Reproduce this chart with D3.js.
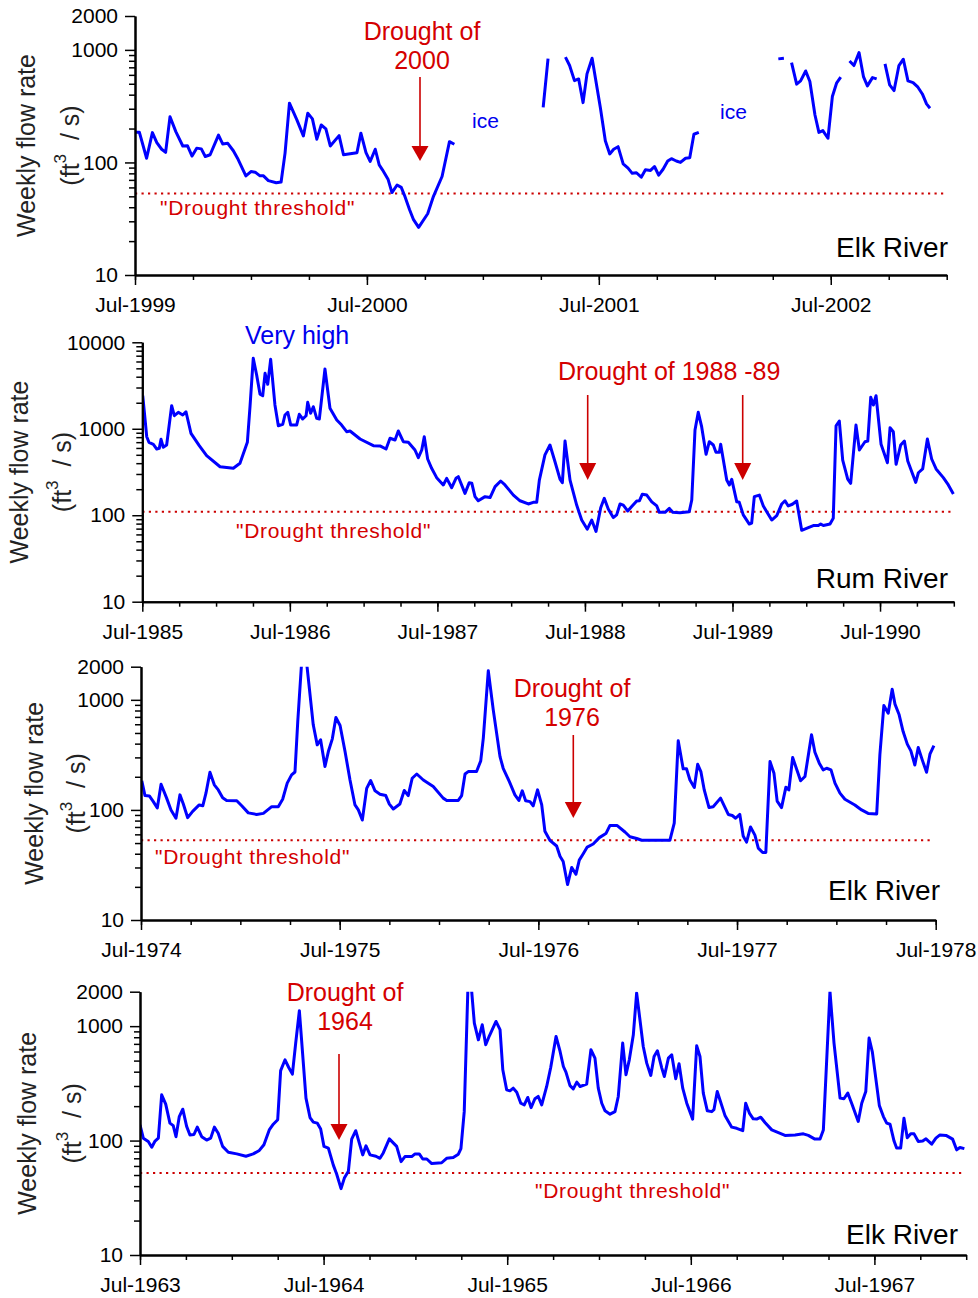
<!DOCTYPE html>
<html><head><meta charset="utf-8">
<script src="https://cdn.jsdelivr.net/npm/d3@7"></script>
<style>
body{margin:0;background:#fff;}
svg{display:block;font-family:"Liberation Sans",Arial,Helvetica,sans-serif;}
</style></head><body>
<svg id="chart" width="978" height="1298"></svg>
<script>
// ---------------- DATA ----------------
// Panel 1: Elk River, Jul-1999 .. Jan-2003 (null = ice gap)
const elk2000Years = [1999.500,1999.519,1999.550,1999.575,1999.594,1999.615,1999.632,1999.651,1999.676,1999.706,1999.726,1999.746,1999.766,1999.786,1999.803,1999.824,1999.860,1999.878,1999.900,1999.924,1999.942,1999.978,2000.000,2000.018,2000.039,2000.054,2000.075,2000.109,2000.130,2000.147,2000.166,2000.198,2000.226,2000.245,2000.265,2000.284,2000.303,2000.323,2000.342,2000.380,2000.399,2000.457,2000.474,2000.496,2000.514,2000.536,2000.553,2000.567,2000.591,2000.608,2000.630,2000.648,2000.662,2000.684,2000.701,2000.723,2000.762,2000.787,2000.824,2000.856,2000.877,
 2000.95,
 2001.260,2001.281,
 2001.32,
 2001.356,2001.374,2001.395,2001.413,2001.432,2001.449,2001.471,2001.507,2001.528,2001.547,2001.564,2001.583,2001.605,2001.626,2001.644,2001.662,2001.683,2001.701,2001.723,2001.740,2001.758,2001.777,2001.797,2001.813,2001.834,2001.852,2001.874,2001.892,2001.910,2001.931,
 2002.1,
 2002.274,2002.298,
 2002.315,
 2002.331,2002.353,2002.370,2002.392,2002.410,2002.432,2002.449,2002.466,2002.488,2002.507,2002.525,2002.543,
 2002.56,
 2002.581,2002.600,2002.622,2002.641,2002.658,2002.680,2002.698,
 2002.715,
 2002.734,2002.754,2002.773,2002.794,2002.813,2002.833,2002.855,2002.876,2002.895,2002.913,2002.928];
const elk2000Flow = [185,185,109,184,150,131,123,255,188,140,141,114,134,132,113,117,175,146,148,127,109,76,83,82,76,76,69,66,67,121,336,239,172,274,244,161,215,199,140,173,117,122,182,122,102,131,95,86,71,54,63,60,51,38,31,26.5,35,50,75,153,145,
 null,
 309,837,
 null,
 861,726,533,552,340,612,843,303,156,119,131,138,97,89,80,81,74,86,85,92,77,87,103,108,103,100,109,110,178,185,
 null,
 832,843,
 null,
 771,496,530,650,523,264,185,192,164,385,506,572,
 null,
 798,726,946,579,479,567,552,
 null,
 751,489,435,726,826,530,512,466,406,331,303];

// Panel 2: Rum River, Jul-1985 .. Jan-1991
const rumYears = [1985.503,1985.530,1985.545,1985.575,1985.598,1985.615,1985.627,1985.642,1985.665,1985.699,1985.717,1985.744,1985.774,1985.796,1985.830,1985.886,1985.936,1986.027,1986.117,1986.162,1986.212,1986.230,1986.252,1986.275,1986.298,1986.316,1986.332,1986.350,1986.370,1986.399,1986.422,1986.452,1986.467,1986.486,1986.506,1986.546,1986.564,1986.587,1986.610,1986.621,1986.641,1986.659,1986.682,1986.700,1986.738,1986.772,1986.818,1986.851,1986.885,1986.908,1986.976,1987.066,1987.111,1987.152,1987.179,1987.213,1987.235,1987.269,1987.303,1987.348,1987.371,1987.394,1987.411,1987.434,1987.461,1987.495,1987.540,1987.563,1987.597,1987.626,1987.642,1987.687,1987.716,1987.733,1987.755,1987.777,1987.823,1987.857,1987.891,1987.929,1987.958,1988.015,1988.060,1988.116,1988.150,1988.173,1988.191,1988.229,1988.263,1988.297,1988.331,1988.347,1988.365,1988.399,1988.444,1988.478,1988.516,1988.546,1988.575,1988.607,1988.631,1988.658,1988.692,1988.715,1988.738,1988.760,1988.790,1988.817,1988.851,1988.869,1988.889,1988.919,1988.953,1988.987,1989.004,1989.043,1989.072,1989.095,1989.144,1989.207,1989.224,1989.246,1989.268,1989.291,1989.321,1989.343,1989.370,1989.388,1989.411,1989.420,1989.461,1989.479,1989.495,1989.529,1989.546,1989.573,1989.614,1989.630,1989.648,1989.682,1989.709,1989.732,1989.766,1989.800,1989.834,1989.856,1989.878,1989.906,1989.935,1989.969,1990.014,1990.048,1990.082,1990.098,1990.116,1990.161,1990.183,1990.202,1990.224,1990.247,1990.281,1990.301,1990.337,1990.360,1990.398,1990.417,1990.437,1990.455,1990.473,1990.507,1990.550,1990.568,1990.590,1990.609,1990.640,1990.665,1990.688,1990.715,1990.742,1990.760,1990.789,1990.821,1990.850,1990.880,1990.929,1990.963,1990.997];
const rumFlow = [2410,809,697,661,583,593,755,611,649,1849,1416,1549,1443,1574,886,637,488,364,349,399,697,1800,6530,4190,2505,2410,4375,3266,6353,1884,1084,1127,1443,1549,1104,1104,1470,1297,1416,2023,1510,1800,1321,1300,4909,1726,1262,1104,925,942,762,637,634,583,776,741,942,708,697,568,463,568,809,447,349,272,224,267,208,267,279,179,238,235,164,147,164,160,214,249,224,171,147,135,141,141,255,498,649,416,262,238,721,255,131,88,69,88,65,122,157,118,94,101,135,131,112,126,146,147,175,171,143,128,108,108,120,108,107,110,150,968,1549,1057,507,708,649,535,535,661,255,224,260,143,141,101,79,81,164,171,128,110,88,99,135,147,128,134,146,67,72,76,76,79,76,79,92,1084,1230,435,262,234,1104,568,708,721,2312,1884,2410,661,405,1028,925,388,649,721,424,318,240,310,343,762,447,343,272,224,176];

// Panel 3: Elk River, Jul-1974 .. Jul-1978
const elk1976Years = [1974.504,1974.520,1974.542,1974.562,1974.582,1974.601,1974.629,1974.651,1974.676,1974.696,1974.713,1974.735,1974.760,1974.793,1974.811,1974.827,1974.847,1974.869,1974.889,1974.911,1974.931,1974.982,1975.007,1975.040,1975.082,1975.116,1975.158,1975.191,1975.213,1975.236,1975.258,1975.275,1975.289,1975.318,1975.367,1975.387,1975.404,1975.426,1975.443,1975.463,1975.481,1975.502,1975.527,1975.552,1975.577,1975.594,1975.614,1975.636,1975.656,1975.678,1975.703,1975.732,1975.750,1975.770,1975.803,1975.825,1975.845,1975.865,1975.888,1975.921,1975.971,1976.021,1976.039,1976.097,1976.114,1976.131,1976.147,1976.189,1976.210,1976.223,1976.248,1976.273,1976.307,1976.323,1976.354,1976.382,1976.402,1976.419,1976.436,1976.458,1976.474,1976.496,1976.517,1976.533,1976.558,1976.592,1976.609,1976.625,1976.647,1976.668,1976.689,1976.706,1976.726,1976.746,1976.776,1976.807,1976.840,1976.860,1976.897,1976.936,1976.961,1976.995,1977.020,1977.162,1977.184,1977.204,1977.229,1977.246,1977.263,1977.285,1977.302,1977.318,1977.335,1977.359,1977.380,1977.417,1977.456,1977.476,1977.493,1977.514,1977.531,1977.548,1977.568,1977.590,1977.607,1977.629,1977.645,1977.666,1977.686,1977.702,1977.724,1977.746,1977.761,1977.780,1977.820,1977.842,1977.875,1977.892,1977.914,1977.934,1977.951,1977.973,1977.993,1978.018,1978.043,1978.093,1978.127,1978.160,1978.203,1978.219,1978.239,1978.261,1978.281,1978.295,1978.316,1978.336,1978.357,1978.375,1978.395,1978.412,1978.434,1978.454,1978.471,1978.491];
const elk1976Flow = [184,135,134,119,104,171,128,100,84,137,113,85,97,111,109,142,220,169,152,129,122,121,109,94,91,93,107,107,125,175,208,221,635,4000,593,390,433,248,339,442,691,584,339,187,111,100,81,157,185,149,139,135,113,102,113,150,135,194,212,187,163,128,122,122,135,212,223,223,279,449,1836,811,305,239,181,137,122,149,121,119,109,152,111,64,53,47,38,34,21,30,26,35,40,46,49,56,61,72,72,63,57,55,53,53,76,424,236,236,187,160,260,223,152,105,107,128,91,89,84,91,58,51,70,59,45,41,41,275,215,120,105,161,152,299,184,201,481,334,266,231,239,231,175,142,125,111,100,93,92,316,888,757,1250,914,731,515,396,344,256,369,279,220,321,384];

// Panel 4: Elk River, Jul-1963 .. Jan-1968
const elk1964Years = [1963.500,1963.518,1963.545,1963.564,1963.582,1963.600,1963.618,1963.640,1963.663,1963.681,1963.696,1963.714,1963.733,1963.754,1963.772,1963.794,1963.812,1963.836,1963.863,1963.885,1963.905,1963.926,1963.950,1963.981,1964.027,1964.077,1964.117,1964.150,1964.175,1964.204,1964.226,1964.250,1964.266,1964.290,1964.310,1964.330,1964.348,1964.368,1964.404,1964.426,1964.444,1964.466,1964.484,1964.502,1964.526,1964.553,1964.571,1964.595,1964.613,1964.635,1964.653,1964.675,1964.713,1964.731,1964.753,1964.785,1964.807,1964.825,1964.858,1964.898,1964.922,1964.943,1964.980,1964.998,1965.021,1965.040,1965.062,1965.089,1965.143,1965.170,1965.206,1965.234,1965.248,1965.266,1965.291,1965.321,1965.343,1965.364,1965.383,1965.403,1965.439,1965.461,1965.476,1965.497,1965.515,1965.533,1965.552,1965.574,1965.593,1965.612,1965.630,1965.651,1965.669,1965.688,1965.715,1965.737,1965.766,1965.788,1965.806,1965.820,1965.842,1965.860,1965.879,1965.897,1965.933,1965.956,1965.978,1965.996,1966.015,1966.033,1966.060,1966.087,1966.105,1966.129,1966.147,1966.165,1966.187,1966.205,1966.241,1966.260,1966.282,1966.300,1966.318,1966.342,1966.356,1966.378,1966.396,1966.418,1966.436,1966.456,1966.478,1966.510,1966.532,1966.550,1966.568,1966.590,1966.614,1966.626,1966.644,1966.686,1966.723,1966.750,1966.783,1966.799,1966.819,1966.840,1966.859,1966.881,1966.904,1966.941,1966.977,1967.013,1967.068,1967.113,1967.140,1967.176,1967.204,1967.222,1967.258,1967.280,1967.313,1967.334,1967.355,1967.376,1967.412,1967.431,1967.453,1967.471,1967.489,1967.527,1967.549,1967.567,1967.585,1967.607,1967.621,1967.643,1967.661,1967.679,1967.698,1967.716,1967.739,1967.763,1967.781,1967.812,1967.835,1967.857,1967.890,1967.926,1967.948,1967.966,1967.990];
const elk1964Flow = [137,105,98,87.5,99,105,251,208,142,135,108,162,188,133,112,113,131,108,101,105,131,116,89,79,76.5,73,76.5,82,92,124,139,152,409,508,435,381,711,1364,235,159,145,142,126,89,86,61,51,38,47,54,103,122,75,90,75,73,70,78,103.5,89,65.5,72.5,72.5,76.5,76.5,69,69,63,64,70,71,76,85,179,4000,1064,760,1028,687,824,1099,931,416,278,272,287,265,212,205,238,194,232,243,205,297,435,813,601,444,396,302,283,324,297,311,622,526,287,212,182,170,179,243,711,376,508,841,1950,664,475,371,543,610,430,363,526,562,347,469,287,212,154,674,543,260,182,179,186,268,166,131,128,122,212,174,155,154,160,144,124,117.5,111,112,114.5,111,103,103,124,2014,711,235,232,260,212,147,212,268,787,593,202,162,142,139,99,86,86,157,106,114.5,114.5,98,99,103.5,93,105,112,111,103,83,87,85];

// Drought thresholds (ft3/s) for the four panels
const thresholds = [53, 110, 53, 52];

// Tick labels
const elkYTicks = [10, 100, 1000, 2000];
const elkYLabels = ["10", "100", "1000", "2000"];
const rumYTicks = [10, 100, 1000, 10000];
const rumYLabels = ["10", "100", "1000", "10000"];
const elk2000XLabels = ["Jul-1999", "Jul-2000", "Jul-2001", "Jul-2002"];
const rumXLabels = ["Jul-1985", "Jul-1986", "Jul-1987", "Jul-1988", "Jul-1989", "Jul-1990"];
const elk1976XLabels = ["Jul-1974", "Jul-1975", "Jul-1976", "Jul-1977", "Jul-1978"];
const elk1964XLabels = ["Jul-1963", "Jul-1964", "Jul-1965", "Jul-1966", "Jul-1967"];

// ---------------- DRAWING ----------------
const svg = d3.select("#chart");
const RED = "#d40000";
const BLUE = "#0000ff";

const panels = [
  {years: elk2000Years, flow: elk2000Flow, xDomain: [1999.5, 2003.0], left: 135, right: 946.7,
   top: 16, bottom: 275, yDomain: [10, 2000], yTicks: elkYTicks, yLabels: elkYLabels,
   xLabels: elk2000XLabels, threshold: thresholds[0], threshEnd: 946.7, t1: 35, t2: 79},
  {years: rumYears, flow: rumFlow, xDomain: [1985.5, 1991.0], left: 142.3, right: 953.8,
   top: 342.3, bottom: 601.7, yDomain: [10, 10000], yTicks: rumYTicks, yLabels: rumYLabels,
   xLabels: rumXLabels, threshold: thresholds[1], threshEnd: 953.8, t1: 28, t2: 71},
  {years: elk1976Years, flow: elk1976Flow, xDomain: [1974.5, 1978.5], left: 141, right: 935.7,
   top: 666.7, bottom: 920, yDomain: [10, 2000], yTicks: elkYTicks, yLabels: elkYLabels,
   xLabels: elk1976XLabels, threshold: thresholds[2], threshEnd: 934, t1: 43, t2: 85},
  {years: elk1964Years, flow: elk1964Flow, xDomain: [1963.5, 1968.0], left: 140, right: 966.2,
   top: 991.7, bottom: 1255, yDomain: [10, 2000], yTicks: elkYTicks, yLabels: elkYLabels,
   xLabels: elk1964XLabels, threshold: thresholds[3], threshEnd: 964, t1: 36, t2: 81}
];

function styleAxis(g, fontSize) {
  g.attr("font-family", null).attr("font-size", fontSize);
  g.select(".domain").attr("stroke", "#000").attr("stroke-width", 2);
  g.selectAll(".tick line").attr("stroke", "#000").attr("stroke-width", 1.5);
  g.selectAll(".tick text").attr("fill", "#000");
}

function drawPanel(p, idx) {
  const x = d3.scaleLinear().domain(p.xDomain).range([p.left, p.right]);
  const y = d3.scaleLog().domain(p.yDomain).range([p.bottom, p.top]);
  const g = svg.append("g");

  const clipId = "clip" + idx;
  svg.append("clipPath").attr("id", clipId).append("rect")
    .attr("x", p.left).attr("y", p.top).attr("width", p.right - p.left + 10).attr("height", p.bottom - p.top);

  // threshold line
  g.append("line")
    .attr("x1", x(p.xDomain[0])).attr("x2", p.threshEnd)
    .attr("y1", y(p.threshold)).attr("y2", y(p.threshold))
    .attr("stroke", "#cc0000").attr("stroke-width", 2).attr("stroke-dasharray", "2.2,4.3");

  // flow line
  const pts = p.years.map((t, i) => ({t: t, v: p.flow[i]}));
  const line = d3.line().defined(d => d.v != null).x(d => x(d.t)).y(d => y(d.v));
  g.append("path").datum(pts).attr("d", line)
    .attr("fill", "none").attr("stroke", BLUE).attr("stroke-width", 3)
    .attr("stroke-linejoin", "round").attr("clip-path", `url(#${clipId})`);

  // x axis: minor quarterly ticks
  const minorX = d3.range(p.xDomain[0], p.xDomain[1] + 0.001, 0.25);
  const gxm = g.append("g").attr("transform", `translate(0,${p.bottom})`)
    .call(d3.axisBottom(x).tickValues(minorX).tickSize(5).tickSizeOuter(0).tickFormat(""));
  styleAxis(gxm, 21);
  const majorX = p.xLabels.map((l, i) => p.xDomain[0] + i);
  const gx = g.append("g").attr("transform", `translate(0,${p.bottom})`)
    .call(d3.axisBottom(x).tickValues(majorX).tickSize(10).tickPadding(12).tickSizeOuter(0)
      .tickFormat((d, i) => p.xLabels[i]));
  styleAxis(gx, 21);

  // y axis
  const minorY = [];
  for (let dec = p.yDomain[0]; dec < p.yDomain[1]; dec *= 10) {
    for (let k = 2; k <= 9; k++) if (dec * k < p.yDomain[1]) minorY.push(dec * k);
  }
  const gym = g.append("g").attr("transform", `translate(${p.left},0)`)
    .call(d3.axisLeft(y).tickValues(minorY).tickSize(6).tickSizeOuter(0).tickFormat(""));
  styleAxis(gym, 21);
  const gy = g.append("g").attr("transform", `translate(${p.left},0)`)
    .call(d3.axisLeft(y).tickValues(p.yTicks).tickSize(10).tickPadding(7).tickSizeOuter(0)
      .tickFormat((d, i) => p.yLabels[i]));
  styleAxis(gy, 21);

  // y title
  const mid = (p.top + p.bottom) / 2;
  g.append("text").attr("transform", `translate(${p.t1},${mid}) rotate(-90)`)
    .attr("text-anchor", "middle").attr("font-size", 25).attr("fill", "#222")
    .text("Weekly flow rate");
  const t2 = g.append("text").attr("transform", `translate(${p.t2},${mid}) rotate(-90)`)
    .attr("text-anchor", "middle").attr("font-size", 25).attr("fill", "#222");
  t2.append("tspan").text("(ft");
  t2.append("tspan").attr("font-size", 17).attr("dy", -13).text("3");
  t2.append("tspan").attr("dy", 13).text("\u00a0 / s)");
  return {x, y, g};
}

function redText(g, str, x, y, size, anchor, spacing) {
  const t = g.append("text").attr("x", x).attr("y", y).attr("fill", RED)
    .attr("font-size", size).attr("text-anchor", anchor || "start").text(str);
  if (spacing) t.attr("letter-spacing", spacing);
  return t;
}
function arrow(g, x, y1, y2, y3) {
  g.append("line").attr("x1", x).attr("x2", x).attr("y1", y1).attr("y2", y2)
    .attr("stroke", "#cc0000").attr("stroke-width", 1.6);
  g.append("path").attr("d", `M${x - 8.5},${y2} L${x + 8.5},${y2} L${x},${y3} Z`).attr("fill", "#cc0000");
}
function blackText(g, str, x, y) {
  g.append("text").attr("x", x).attr("y", y).attr("text-anchor", "end")
    .attr("font-size", 28).attr("fill", "#000").text(str);
}
function blueText(g, str, x, y, size) {
  g.append("text").attr("x", x).attr("y", y).attr("fill", "#0000ee")
    .attr("font-size", size).text(str);
}

const P = panels.map(drawPanel);

// Panel 1 annotations
redText(P[0].g, "Drought of", 422, 39.5, 25, "middle");
redText(P[0].g, "2000", 422, 68.5, 25, "middle");
arrow(P[0].g, 420, 77, 146, 161);
blueText(P[0].g, "ice", 472, 128, 21);
blueText(P[0].g, "ice", 720, 119, 21);
redText(P[0].g, "\"Drought threshold\"", 160, 215, 21, "start", "0.7px");
blackText(P[0].g, "Elk River", 948, 257);

// Panel 2 annotations
blueText(P[1].g, "Very high", 245, 344, 25);
redText(P[1].g, "Drought of 1988 -89", 558, 380, 25, "start");
arrow(P[1].g, 587.7, 395, 463, 480);
arrow(P[1].g, 742.7, 395, 463, 480);
redText(P[1].g, "\"Drought threshold\"", 236, 538, 21, "start", "0.7px");
blackText(P[1].g, "Rum River", 948, 588);

// Panel 3 annotations
redText(P[2].g, "Drought of", 572, 697, 25, "middle");
redText(P[2].g, "1976", 572, 726, 25, "middle");
arrow(P[2].g, 573.3, 735, 802, 818);
redText(P[2].g, "\"Drought threshold\"", 155, 864, 21, "start", "0.7px");
blackText(P[2].g, "Elk River", 940, 900);

// Panel 4 annotations
redText(P[3].g, "Drought of", 345, 1001, 25, "middle");
redText(P[3].g, "1964", 345, 1030, 25, "middle");
arrow(P[3].g, 339, 1054, 1124, 1140);
redText(P[3].g, "\"Drought threshold\"", 535, 1198, 21, "start", "0.7px");
blackText(P[3].g, "Elk River", 958, 1244);
</script>
</body></html>
